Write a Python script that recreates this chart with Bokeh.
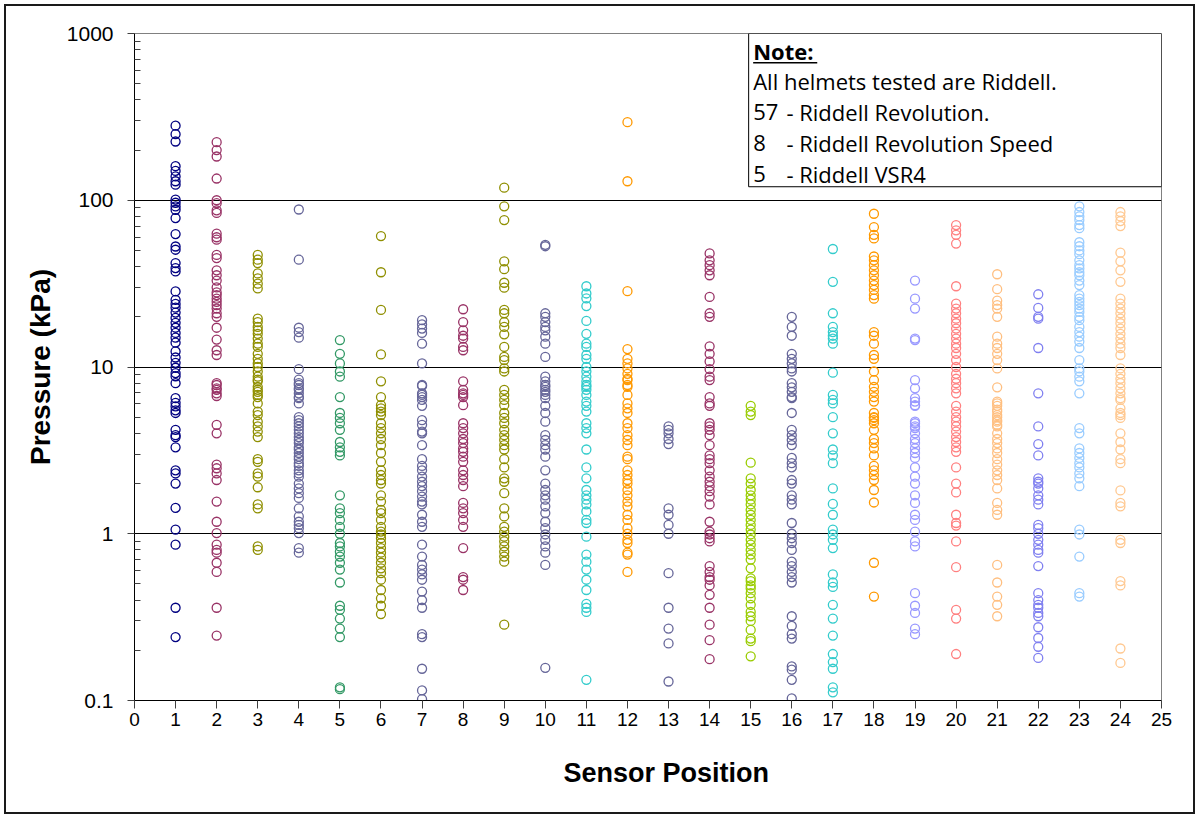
from bokeh.plotting import figure
from bokeh.models import (Range1d, FixedTicker, BoxAnnotation, Label, Title,
                          ColumnDataSource, CustomJSTickFormatter)
from bokeh.embed import file_html
from bokeh.resources import INLINE

# Peak pressure readings (kPa) per sensor position
sensor_1 = [280, 249, 225, 160, 150, 139, 130, 124, 101, 96.6, 91.8, 87.7, 78.2, 62.7, 52.8, 50.5,
            42, 39.2, 37.4, 28.4, 25.3, 23.9, 22.7, 21.2, 19.7, 18.4, 17.2, 16.0, 15.0, 14.0, 12.4,
            11.4, 10.6, 9.9, 9.2, 8.8, 8.0, 6.5, 6.1, 5.8, 5.5, 5.3, 4.2, 3.9, 3.8, 3.3, 2.4, 2.3,
            2.0, 1.43, 1.06, 0.86, 0.36, 0.24]
sensor_2 = [223, 200, 183, 135, 100, 96, 87, 84, 63, 60, 58, 47, 45, 38, 35.5, 33, 30, 28, 27,
            25.7, 24.6, 23.5, 22.4, 21, 20, 17.2, 14.6, 12.6, 11.8, 8.0, 7.45, 6.95, 7.8, 7.3, 6.7,
            4.5, 4.0, 2.6, 2.47, 2.3, 2.1, 1.56, 1.18, 1.01, 0.86, 0.80, 0.77, 0.67, 0.59, 0.36,
            0.245]
sensor_3 = [47, 44, 42, 36.4, 34, 31.6, 29.6, 19.5, 18.6, 17.4, 16.6, 15.8, 14.8, 13.8, 13.2, 12.0,
            11.2, 10.5, 10, 9.4, 8.75, 8.2, 7.6, 7.3, 6.8, 8.4, 7.1, 6.6, 6.05, 5.4, 5.15, 4.7, 4.4,
            4.1, 3.8, 2.8, 2.7, 2.3, 2.2, 1.9, 1.5, 1.42, 0.84, 0.80]
sensor_4 = [88, 44, 17.2, 16.2, 15.0, 9.7, 8.4, 8.0, 7.45, 6.95, 6.5, 7.8, 7.3, 6.6, 6.05, 5.0, 4.8,
            4.6, 4.4, 4.2, 4.0, 3.8, 3.65, 3.5, 3.3, 3.2, 3.05, 2.9, 2.8, 2.65, 2.55, 2.4, 2.3, 2.2,
            2.0, 1.87, 1.75, 1.64, 1.42, 1.27, 1.18, 1.13, 1.08, 1.01, 0.82, 0.77]
sensor_5 = [14.5, 12.0, 10.5, 9.4, 8.75, 6.6, 5.3, 4.95, 4.6, 4.2, 3.55, 3.3, 3.1, 2.95, 1.7, 1.42,
            1.33, 1.21, 1.1, 1.0, 0.88, 0.84, 0.78, 0.73, 0.67, 0.61, 0.51, 0.37, 0.35, 0.31, 0.27,
            0.24, 0.12, 0.117]
sensor_6 = [61, 37, 22, 11.9, 8.2, 6.6, 5.9, 5.65, 5.4, 5.15, 4.6, 4.3, 4.0, 3.7, 3.4, 3.05, 2.7,
            2.4, 2.25, 2.1, 2.0, 1.7, 1.56, 1.39, 1.33, 1.21, 1.1, 1.03, 0.99, 0.94, 0.88, 0.82,
            0.77, 0.72, 0.67, 0.62, 0.58, 0.53, 0.46, 0.41, 0.37, 0.33]
sensor_7 = [19.1, 18.0, 17.0, 16.0, 13.8, 10.5, 7.7, 6.95, 6.6, 7.8, 6.8, 6.35, 5.85, 4.8, 4.5, 4.1,
            4.0, 3.4, 2.8, 2.55, 2.4, 2.2, 2.05, 1.93, 1.8, 1.67, 1.56, 1.5, 1.3, 1.18, 1.1, 0.86,
            0.73, 0.65, 0.61, 0.57, 0.53, 0.45, 0.40, 0.36, 0.25, 0.24, 0.155, 0.115, 0.102]
sensor_8 = [22.2, 18.6, 16.6, 15.4, 14.8, 13.2, 12.6, 8.2, 7.3, 6.95, 6.6, 6.8, 5.9, 4.6, 4.3, 4.0,
            3.7, 3.5, 3.25, 3.1, 2.9, 2.7, 2.4, 2.25, 2.1, 1.93, 1.53, 1.42, 1.33, 1.21, 1.1, 0.82,
            0.55, 0.53, 0.46]
sensor_9 = [119, 92, 76, 43, 38.6, 32, 29.9, 22, 21, 18.6, 17.4, 15.7, 13.2, 11.5, 11.0, 9.8, 9.4,
            7.3, 6.8, 6.35, 5.9, 5.3, 4.95, 4.6, 4.2, 3.9, 3.65, 3.4, 3.2, 2.8, 2.5, 2.15, 2.05,
            1.75, 1.42, 1.27, 1.1, 1.03, 0.96, 0.9, 0.84, 0.78, 0.73, 0.68, 0.285]
sensor_10 = [54, 53, 21, 20, 18.6, 17.4, 16.6, 15.2, 13.8, 11.5, 8.75, 8.2, 7.6, 7.1, 7.8, 7.3, 6.8,
             6.5, 5.85, 5.3, 4.7, 3.9, 3.65, 3.4, 3.2, 2.9, 2.4, 2.0, 1.83, 1.7, 1.6, 1.46, 1.33,
             1.18, 1.08, 0.99, 0.92, 0.84, 0.77, 0.65, 0.157]
sensor_11 = [30.5, 27.6, 25.8, 23.2, 18.9, 15.8, 13.8, 13.2, 11.8, 11.2, 10, 9.4, 8.75, 8.2, 7.6,
             6.8, 7.8, 7.3, 6.2, 5.85, 5.4, 4.6, 4.3, 4.0, 3.2, 2.5, 2.15, 1.83, 1.7, 1.6, 1.5,
             1.36, 1.21, 1.16, 0.96, 0.75, 0.68, 0.61, 0.53, 0.46, 0.38, 0.36, 0.34, 0.133]
sensor_12 = [294, 130, 28.5, 12.8, 11.2, 10.5, 9.8, 9.1, 8.5, 7.6, 6.8, 8.35, 7.8, 6.05, 5.65, 5.3,
             4.6, 4.3, 3.9, 3.65, 3.4, 2.9, 2.8, 2.4, 2.25, 2.1, 2.0, 1.83, 1.7, 1.56, 1.46, 1.3,
             1.21, 1.08, 1.0, 0.92, 0.88, 0.77, 0.75, 0.59]
sensor_13 = [4.4, 4.2, 4.0, 3.7, 3.45, 1.42, 1.3, 1.13, 1.0, 0.58, 0.36, 0.27, 0.22, 0.13]
sensor_14 = [48, 43.6, 40.8, 38, 35.5, 26.3, 21, 20, 13.3, 12.0, 10.8, 9.7, 8.75, 6.6, 8.35, 6.05,
             5.85, 4.6, 4.4, 4.2, 3.9, 3.4, 2.95, 2.8, 2.65, 2.4, 2.2, 2.05, 1.93, 1.8, 1.67, 1.5,
             1.18, 1.03, 0.99, 0.94, 0.9, 0.64, 0.59, 0.55, 0.53, 0.49, 0.43, 0.36, 0.285, 0.23,
             0.177]
sensor_15 = [5.85, 5.4, 5.15, 2.67, 2.15, 2.0, 1.83, 1.7, 1.6, 1.5, 1.39, 1.3, 1.21, 1.13, 1.06,
             0.99, 0.92, 0.86, 0.8, 0.75, 0.70, 0.62, 0.54, 0.52, 0.49, 0.47, 0.44, 0.41, 0.375,
             0.34, 0.32, 0.30, 0.265, 0.235, 0.227, 0.184]
sensor_16 = [20, 17.4, 15.4, 12.0, 11.2, 10.5, 9.8, 9.4, 8.0, 7.55, 7.1, 6.6, 6.5, 5.3, 4.2, 3.9,
             3.65, 3.4, 2.85, 2.65, 2.5, 2.1, 2.0, 1.7, 1.6, 1.5, 1.16, 1.0, 0.94, 0.88, 0.8, 0.68,
             0.64, 0.59, 0.55, 0.51, 0.32, 0.28, 0.25, 0.235, 0.16, 0.153, 0.133, 0.103]
sensor_17 = [51, 32.4, 21, 17.4, 16.2, 15.4, 14.8, 13.8, 9.25, 6.8, 6.35, 5.0, 6.05, 4.0, 3.2, 2.95,
             2.65, 1.87, 1.51, 1.3, 1.06, 0.99, 0.92, 0.82, 0.57, 0.51, 0.48, 0.375, 0.31, 0.245,
             0.19, 0.17, 0.155, 0.12, 0.112]
sensor_18 = [83, 69, 62, 59, 46, 43.6, 40.8, 38, 35.5, 33, 31, 29, 27, 25.7, 16.2, 15.4, 13.8, 11.8,
             11.2, 9.4, 8.35, 7.6, 7.1, 6.6, 6.2, 5.3, 4.95, 4.6, 5.0, 4.8, 4.2, 3.7, 3.5, 3.25,
             2.95, 2.55, 2.4, 2.25, 2.1, 1.83, 1.54, 0.67, 0.42]
sensor_19 = [33, 25.7, 22.4, 14.8, 14.5, 8.35, 7.45, 6.5, 6.2, 5.85, 4.7, 4.4, 5.9, 4.6, 4.3, 4.0,
             3.7, 3.5, 3.25, 3.05, 2.85, 2.5, 2.2, 2.0, 1.7, 1.53, 1.3, 1.21, 1.03, 0.9, 0.84, 0.44,
             0.37, 0.335, 0.27, 0.25]
sensor_20 = [71, 66, 62, 55, 30.5, 24, 22.4, 21, 19.5, 18.3, 17.0, 15.8, 14.8, 13.8, 13.0, 12.0,
             11.0, 10.0, 9.1, 8.5, 8.0, 7.45, 6.95, 5.85, 5.4, 5.0, 4.7, 4.4, 4.1, 3.8, 3.55, 3.3,
             3.1, 2.5, 2.0, 1.77, 1.3, 1.16, 1.12, 0.9, 0.63, 0.35, 0.31, 0.19]
sensor_21 = [36, 29.3, 25, 23.5, 22.4, 20, 15.2, 13.8, 13.0, 12.0, 11.0, 9.8, 7.55, 6.2, 5.85, 5.4,
             5.0, 4.7, 4.4, 6.05, 5.55, 5.15, 4.8, 4.5, 4.0, 3.7, 3.5, 3.25, 3.05, 2.8, 2.6, 2.4,
             2.25, 2.1, 1.87, 1.53, 1.39, 1.3, 0.65, 0.51, 0.42, 0.375, 0.32]
sensor_22 = [27.3, 22.6, 20, 19.5, 13.0, 6.95, 4.4, 3.45, 2.95, 2.15, 2.05, 2.0, 1.87, 1.7, 1.6,
             1.5, 1.13, 1.08, 1.0, 0.92, 0.86, 0.8, 0.77, 0.64, 0.44, 0.40, 0.375, 0.36, 0.335,
             0.32, 0.275, 0.237, 0.21, 0.18]
sensor_23 = [92, 85, 80, 76, 71, 68, 56, 53, 50, 47.5, 43.6, 40.8, 39, 37, 35.5, 33, 31, 27, 25.7,
             24.6, 23.5, 22.4, 21.4, 20, 19.1, 17.4, 16.2, 15.2, 14.2, 13.0, 11.0, 9.8, 9.4, 8.75,
             8.2, 6.95, 4.3, 4.0, 3.25, 3.05, 2.85, 2.65, 2.5, 2.3, 2.15, 1.93, 1.06, 0.99, 0.73,
             0.44, 0.42]
sensor_24 = [85, 80, 75, 70, 48.5, 43, 38, 32.4, 25.7, 24, 22.4, 21, 19.5, 18.3, 17, 15.8, 14.8,
             13.8, 13.0, 11.8, 9.8, 9.1, 8.5, 8.0, 7.45, 6.95, 6.5, 5.65, 5.3, 4.95, 6.35, 5.15,
             4.0, 3.55, 3.2, 2.8, 2.65, 1.82, 1.53, 1.46, 0.92, 0.88, 0.52, 0.49, 0.205, 0.168]

sensor_readings = [sensor_1, sensor_2, sensor_3, sensor_4, sensor_5, sensor_6, sensor_7, sensor_8,
                   sensor_9, sensor_10, sensor_11, sensor_12, sensor_13, sensor_14, sensor_15,
                   sensor_16, sensor_17, sensor_18, sensor_19, sensor_20, sensor_21, sensor_22,
                   sensor_23, sensor_24]

sensor_colors = ["#000080", "#993366", "#8f8f00", "#666699", "#339966", "#8f8f00", "#666699",
                 "#993366", "#8f8f00", "#666699", "#33cccc", "#ff9900", "#666699", "#993366",
                 "#99cc00", "#666699", "#33cccc", "#ff9900", "#9999ff", "#ff8080", "#ffbf80",
                 "#8080f0", "#99ccff", "#ffc890"]

x_ticks = list(range(0, 26))
y_ticks = [0.1, 1, 10, 100, 1000]
y_minor = [m * d for d in (0.1, 1, 10, 100) for m in range(2, 10)]

note_title = "Note:"
note_lines = [("", "All helmets tested are Riddell."),
              ("57", "- Riddell Revolution."),
              ("8", "- Riddell Revolution Speed"),
              ("5", "- Riddell VSR4")]

AXIS_FONT = "Liberation Sans"
NOTE_FONT = "Open Sans"

p = figure(width=1199, height=818, y_axis_type="log",
           x_range=Range1d(0, 25), y_range=Range1d(0.1, 1000),
           output_backend="svg", toolbar_location=None,
           min_border_left=134, min_border_right=38,
           min_border_top=33, min_border_bottom=118)

# transparent surround so the page frame drawn on the host element shows through
p.background_fill_color = "white"
p.border_fill_color = None
p.outline_line_color = "#808080"
p.outline_line_width = 1
p.styles = {"outline": "2px solid #1a1a1a", "outline-offset": "-6px", "background": "white"}

for pos, vals, col in zip(range(1, 25), sensor_readings, sensor_colors):
    src = ColumnDataSource(dict(x=[pos] * len(vals), y=vals))
    p.scatter("x", "y", source=src, marker="circle", size=9,
              fill_color=None, line_color=col, line_width=1.3)

# gridlines only at the inner decades
p.xgrid.grid_line_color = None
p.ygrid.ticker = FixedTicker(ticks=[1, 10, 100])
p.ygrid.grid_line_color = "black"
p.ygrid.grid_line_width = 1

# x axis
p.xaxis.ticker = FixedTicker(ticks=x_ticks)
p.xaxis.axis_line_color = "black"
p.xaxis.major_tick_line_color = "#404040"
p.xaxis.major_tick_out = 8
p.xaxis.major_tick_in = 0
p.xaxis.minor_tick_line_color = None
p.xaxis.major_label_text_font = AXIS_FONT
p.xaxis.major_label_text_font_size = "19px"
p.xaxis.major_label_text_color = "black"
p.xaxis.major_label_standoff = 4

# x axis title, set a little right of centre
x_title = Title(text="Sensor Position", align="left", offset=429,
                text_font=AXIS_FONT, text_font_size="27px", text_font_style="bold",
                text_color="black")
if "standoff" in x_title.properties():
    x_title.standoff = 54
p.add_layout(x_title, "below")

# y axis (log)
p.yaxis.ticker = FixedTicker(ticks=y_ticks, minor_ticks=y_minor)
p.yaxis.formatter = CustomJSTickFormatter(code="return String(tick)")
p.yaxis.axis_line_color = "black"
p.yaxis.major_tick_line_color = "#404040"
p.yaxis.major_tick_out = 7
p.yaxis.major_tick_in = 0
p.yaxis.minor_tick_line_color = "#404040"
p.yaxis.minor_tick_in = 6
p.yaxis.minor_tick_out = 0
p.yaxis.major_label_text_font = AXIS_FONT
p.yaxis.major_label_text_font_size = "21px"
p.yaxis.major_label_text_color = "black"
p.yaxis.major_label_standoff = 14
p.yaxis.axis_label = "Pressure (kPa)"
p.yaxis.axis_label_text_font = AXIS_FONT
p.yaxis.axis_label_text_font_size = "28px"
p.yaxis.axis_label_text_font_style = "bold"
p.yaxis.axis_label_text_color = "black"
p.yaxis.axis_label_standoff = 8

# note box in the upper right corner
p.add_layout(BoxAnnotation(left=14.95, bottom=120.5, fill_color="white", fill_alpha=1.0,
                           line_color="black", line_alpha=1.0, line_width=1))

note_x = 15.06
dash_x = 15.87
line_y = [520.8, 339.4, 221.2, 144.2]
NOTE_SIZE = "22px"

p.add_layout(Label(x=note_x, y=782.8, text=note_title, text_font=NOTE_FONT,
                   text_font_size=NOTE_SIZE, text_font_style="bold", text_color="black",
                   text_baseline="middle"))
p.segment(x0=[note_x], x1=[16.62], y0=[668], y1=[668], line_color="black",
          line_width=1.5, level="overlay")

for (num, txt), yv in zip(note_lines, line_y):
    if num:
        p.add_layout(Label(x=note_x, y=yv, text=num, text_font=NOTE_FONT,
                           text_font_size=NOTE_SIZE, text_color="black", text_baseline="middle"))
        p.add_layout(Label(x=dash_x, y=yv, text=txt, text_font=NOTE_FONT,
                           text_font_size=NOTE_SIZE, text_color="black", text_baseline="middle"))
    else:
        p.add_layout(Label(x=note_x, y=yv, text=txt, text_font=NOTE_FONT,
                           text_font_size=NOTE_SIZE, text_color="black", text_baseline="middle"))

open("out.html", "w").write(file_html(p, INLINE))
